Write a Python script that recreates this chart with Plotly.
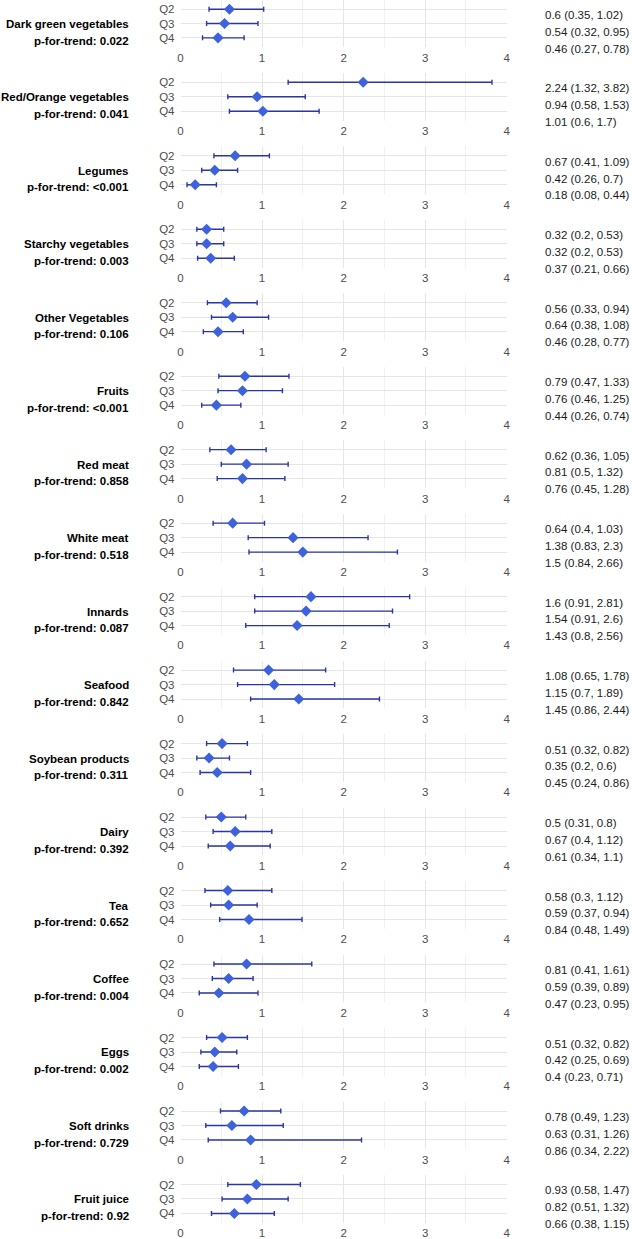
import plotly.graph_objects as go

foods = ["Dark green vegetables", "Red/Orange vegetables", "Legumes", "Starchy vegetables",
         "Other Vegetables", "Fruits", "Red meat", "White meat", "Innards", "Seafood",
         "Soybean products", "Dairy", "Tea", "Coffee", "Eggs", "Soft drinks", "Fruit juice"]
p_trend = ["0.022", "0.041", "<0.001", "0.003", "0.106", "<0.001", "0.858", "0.518", "0.087",
           "0.842", "0.311", "0.392", "0.652", "0.004", "0.002", "0.729", "0.92"]
quartiles = ["Q2", "Q3", "Q4"]

or_q2 = [0.6, 2.24, 0.67, 0.32, 0.56, 0.79, 0.62, 0.64, 1.6, 1.08, 0.51, 0.5, 0.58, 0.81, 0.51, 0.78, 0.93]
lo_q2 = [0.35, 1.32, 0.41, 0.2, 0.33, 0.47, 0.36, 0.4, 0.91, 0.65, 0.32, 0.31, 0.3, 0.41, 0.32, 0.49, 0.58]
hi_q2 = [1.02, 3.82, 1.09, 0.53, 0.94, 1.33, 1.05, 1.03, 2.81, 1.78, 0.82, 0.8, 1.12, 1.61, 0.82, 1.23, 1.47]

or_q3 = [0.54, 0.94, 0.42, 0.32, 0.64, 0.76, 0.81, 1.38, 1.54, 1.15, 0.35, 0.67, 0.59, 0.59, 0.42, 0.63, 0.82]
lo_q3 = [0.32, 0.58, 0.26, 0.2, 0.38, 0.46, 0.5, 0.83, 0.91, 0.7, 0.2, 0.4, 0.37, 0.39, 0.25, 0.31, 0.51]
hi_q3 = [0.95, 1.53, 0.7, 0.53, 1.08, 1.25, 1.32, 2.3, 2.6, 1.89, 0.6, 1.12, 0.94, 0.89, 0.69, 1.26, 1.32]

or_q4 = [0.46, 1.01, 0.18, 0.37, 0.46, 0.44, 0.76, 1.5, 1.43, 1.45, 0.45, 0.61, 0.84, 0.47, 0.4, 0.86, 0.66]
lo_q4 = [0.27, 0.6, 0.08, 0.21, 0.28, 0.26, 0.45, 0.84, 0.8, 0.86, 0.24, 0.34, 0.48, 0.23, 0.23, 0.34, 0.38]
hi_q4 = [0.78, 1.7, 0.44, 0.66, 0.77, 0.74, 1.28, 2.66, 2.56, 2.44, 0.86, 1.1, 1.49, 0.95, 0.71, 2.22, 1.15]

W, H = 632, 1239
FONT = "Liberation Sans, Arial, sans-serif"
LINE_COL = "#2a36a3"
MARK_COL = "#3d62dc"
GRID = "#E6E6E6"
GRID_MINOR = "#F1F1F1"

period = 73.6
q2_off = 8.8
row = 14.5
pad = 0.65 * row

fig = go.Figure()
annotations = []
x0, x1 = 179.5 / W, 509.3 / W


def fmt(v):
    return f"{v:g}"


for i, food in enumerate(foods):
    k = i + 1
    ors = [or_q2[i], or_q3[i], or_q4[i]]
    los = [lo_q2[i], lo_q3[i], lo_q4[i]]
    his = [hi_q2[i], hi_q3[i], hi_q4[i]]
    fig.add_trace(go.Scatter(
        x=ors, y=quartiles, mode="markers",
        marker=dict(symbol="diamond", size=8.5, color=MARK_COL),
        error_x=dict(type="data", symmetric=False,
                     array=[h - o for h, o in zip(his, ors)],
                     arrayminus=[o - l for o, l in zip(ors, los)],
                     color=LINE_COL, thickness=1.4, width=2.5),
        xaxis=f"x{k}", yaxis=f"y{k}", showlegend=False, hoverinfo="skip"))

    q2y = q2_off + i * period
    top = q2y - pad
    bot = q2y + 2 * row + pad
    d0 = 1 - bot / H
    d1 = min(1.0, 1 - top / H)
    xa = dict(domain=[x0, x1], anchor=f"y{k}", range=[0, 4], tick0=0, dtick=1,
              showgrid=True, gridcolor=GRID, gridwidth=1, zeroline=False, showline=False,
              minor=dict(dtick=0.5, tick0=0, showgrid=True, gridcolor=GRID_MINOR, gridwidth=1),
              tickfont=dict(family=FONT, size=11.5, color="#4D4D4D"), ticks="", ticklabelstandoff=2)
    ya = dict(domain=[d0, d1], anchor=f"x{k}", type="category", categoryorder="array",
              categoryarray=quartiles, range=[2 + 0.65, -0.65],
              showgrid=True, gridcolor=GRID, gridwidth=1, zeroline=False, showline=False,
              tickfont=dict(family=FONT, size=11.5, color="#4D4D4D"), ticks="", ticklabelstandoff=5)
    fig.layout[f"xaxis{k}" if k > 1 else "xaxis"] = xa
    fig.layout[f"yaxis{k}" if k > 1 else "yaxis"] = ya

    # left labels
    for txt, off in [(f"<b>{food}</b>", 15.0), (f"<b>p-for-trend: {p_trend[i]}</b>", 31.8)]:
        annotations.append(dict(x=129 / W, y=1 - (q2y + off) / H, xref="paper", yref="paper",
                                text=txt, showarrow=False, xanchor="right", yanchor="middle",
                                font=dict(family=FONT, size=11.5, color="#000000")))
    # right estimates
    for j, off in enumerate([6.0, 22.8, 39.8]):
        txt = f"{fmt(ors[j])} ({fmt(los[j])}, {fmt(his[j])})"
        annotations.append(dict(x=546.5 / W, y=1 - (q2y + off) / H, xref="paper", yref="paper",
                                text=txt, showarrow=False, xanchor="left", yanchor="middle",
                                font=dict(family=FONT, size=11.5, color="#1a1a1a")))

fig.update_layout(width=W, height=H, margin=dict(l=0, r=0, t=0, b=0),
                  paper_bgcolor="white", plot_bgcolor="white",
                  annotations=annotations, font=dict(family=FONT))
fig.write_html("out.html", config={"displayModeBar": False},
               post_script="document.body.style.margin='0';document.body.style.overflow='hidden';")
